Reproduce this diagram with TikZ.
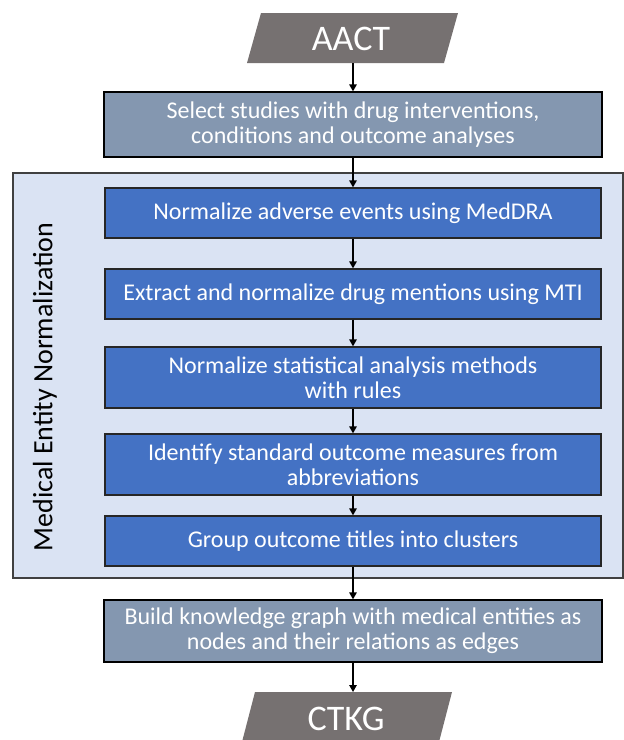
\documentclass[tikz,border=0pt]{standalone}
\usepackage{fontspec}
\setmainfont{Carlito}
\usetikzlibrary{arrows.meta}
\definecolor{paragray}{HTML}{767171}
\definecolor{slatebox}{HTML}{8497B0}
\definecolor{bluebox}{HTML}{4472C4}
\definecolor{framefill}{HTML}{DAE3F3}
\tikzset{
  boxtext/.style={font=\fontsize{24}{25}\selectfont, text=white, align=center},
  slate/.style={boxtext, draw=black, line width=1.3pt, fill=slatebox, minimum width=498pt, inner sep=0pt},
  inner/.style={boxtext, draw=black!85, line width=1.3pt, fill=bluebox, minimum width=496pt, inner sep=0pt},
  bigtext/.style={font=\fontsize{36}{40}\selectfont, text=white, inner sep=0pt},
  arr/.style={line width=1.4pt, -{Triangle[length=7pt,width=7.5pt]}},
}
\begin{document}
\begin{tikzpicture}[x=1pt,y=-1pt]
\useasboundingbox (0,0) rectangle (624,740);
% group frame
\node[draw=black!75, line width=1.3pt, fill=framefill, minimum width=610pt, minimum height=405pt, inner sep=0pt] (frame) at (318,375.5) {};
\node[font=\fontsize{28}{30}\selectfont, rotate=90, inner sep=0pt] (lab) at (45,387) {Medical Entity Normalization};
% source parallelogram
\fill[paragray] (261,13) -- (458,13) -- (444,63) -- (247,63) -- cycle;
\node[bigtext] (aacttxt) at (351,38.5) {AACT};
\coordinate (aact) at (353,63);
% sink parallelogram
\fill[paragray] (255,692) -- (452,692) -- (439,742) -- (242,742) -- cycle;
\node[bigtext] (ctkgtxt) at (346,719) {CTKG};
\coordinate (ctkg) at (353,692);
% boxes
\node[slate, minimum height=65pt] (sel) at (353,124.5) {Select studies with drug interventions,\\conditions and outcome analyses};
\node[inner, minimum height=50pt] (n1) at (353,213) {Normalize adverse events using MedDRA};
\node[inner, minimum height=50pt] (n2) at (353,294) {Extract and normalize drug mentions using MTI};
\node[inner, minimum height=61pt] (n3) at (353,377.5) {Normalize statistical analysis methods\\with rules};
\node[inner, minimum height=61pt] (n4) at (353,464.5) {Identify standard outcome measures from\\abbreviations};
\node[inner, minimum height=50pt] (n5) at (353,541) {Group outcome titles into clusters};
\node[slate, minimum height=62pt] (kg) at (353,631) {Build knowledge graph with medical entities as\\nodes and their relations as edges};
% connectors
\draw[arr] (aact) -- (sel.north);
\draw[arr] (sel) -- (n1);
\draw[arr] (n1) -- (n2);
\draw[arr] (n2) -- (n3);
\draw[arr] (n3) -- (n4);
\draw[arr] (n4) -- (n5);
\draw[arr] (n5) -- (kg);
\draw[arr] (kg.south) -- (ctkg);
\end{tikzpicture}
\end{document}
